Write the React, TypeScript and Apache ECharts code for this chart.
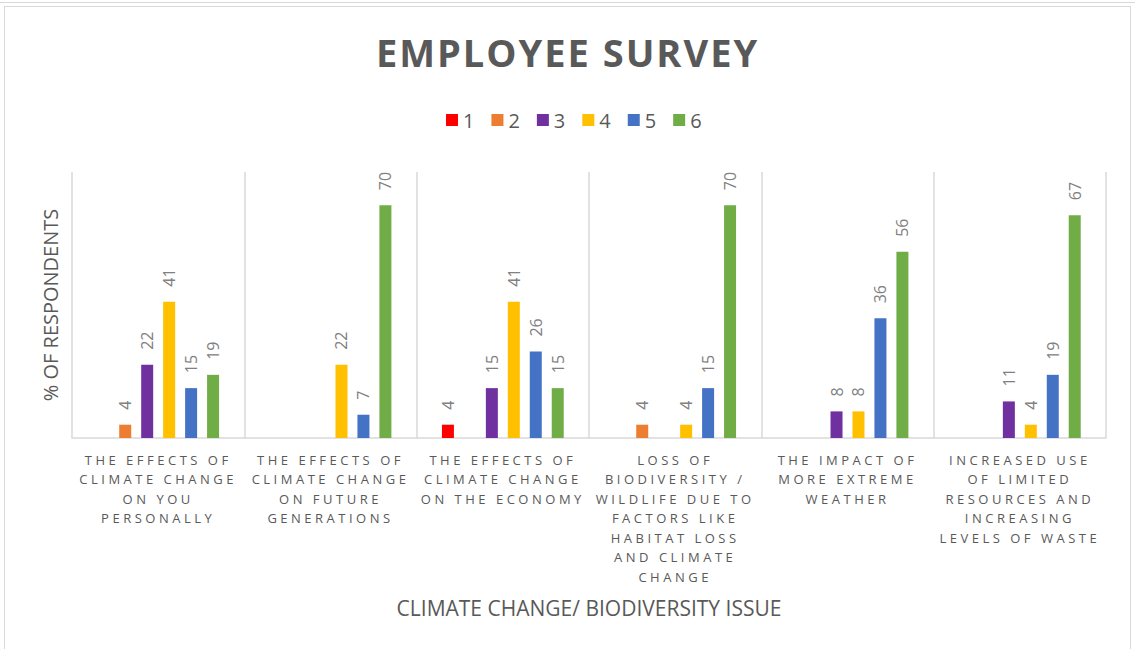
import React, { useEffect, useRef } from "react";
import * as echarts from "echarts";

const categories = [
  "THE EFFECTS OF\nCLIMATE CHANGE\nON YOU\nPERSONALLY",
  "THE EFFECTS OF\nCLIMATE CHANGE\nON FUTURE\nGENERATIONS",
  "THE EFFECTS OF\nCLIMATE CHANGE\nON THE ECONOMY",
  "LOSS OF\nBIODIVERSITY /\nWILDLIFE DUE TO\nFACTORS LIKE\nHABITAT LOSS\nAND CLIMATE\nCHANGE",
  "THE IMPACT OF\nMORE EXTREME\nWEATHER",
  "INCREASED USE\nOF LIMITED\nRESOURCES AND\nINCREASING\nLEVELS OF WASTE",
];

const seriesNames = ["1", "2", "3", "4", "5", "6"];
const values1 = [0, 0, 4, 0, 0, 0];
const values2 = [4, 0, 0, 4, 0, 0];
const values3 = [22, 0, 15, 0, 8, 11];
const values4 = [41, 22, 41, 4, 8, 4];
const values5 = [15, 7, 26, 15, 36, 19];
const values6 = [19, 70, 15, 70, 56, 67];
const allValues = [values1, values2, values3, values4, values5, values6];
const colors = ["#FF0000", "#ED7D31", "#7030A0", "#FFC000", "#4472C4", "#70AD47"];

const titleText = "EMPLOYEE SURVEY";
const xAxisName = "CLIMATE CHANGE/ BIODIVERSITY ISSUE";
const yAxisName = "% OF RESPONDENTS";

const FONT = "'Open Sans', 'Noto Sans', sans-serif";

export default function App() {
  const ref = useRef<HTMLDivElement>(null);

  useEffect(() => {
    if (!ref.current) return;
    const chart = echarts.init(ref.current, undefined, { renderer: "svg" });
    chart.setOption({
      animation: false,
      backgroundColor: "transparent",
      title: {
        text: titleText,
        left: "center",
        top: 28,
        textStyle: {
          fontFamily: FONT,
          fontSize: 38,
          fontWeight: "bold",
          color: "#595959",
        },
      },
      legend: {
        left: 441,
        top: 105,
        itemWidth: 12,
        itemHeight: 12,
        itemGap: 17,
        icon: "rect",
        textStyle: { fontFamily: FONT, fontSize: 20, color: "#595959" },
        data: seriesNames,
      },
      grid: { left: 72, right: 29, top: 172, bottom: 211, containLabel: false },
      xAxis: {
        type: "category",
        data: categories,
        name: xAxisName,
        nameLocation: "middle",
        nameGap: 159,
        nameTextStyle: { fontFamily: FONT, fontSize: 21, color: "#595959" },
        axisLine: { show: true, lineStyle: { color: "#d9d9d9", width: 1.5 } },
        axisTick: { show: false },
        splitLine: { show: true, lineStyle: { color: "#d9d9d9", width: 1.5 } },
        axisLabel: {
          interval: 0,
          margin: 12,
          fontFamily: FONT,
          fontSize: 13,
          lineHeight: 19.5,
          color: "#595959",
        },
      },
      yAxis: {
        type: "value",
        min: 0,
        max: 80,
        name: yAxisName,
        nameLocation: "middle",
        nameRotate: 90,
        nameGap: 12,
        nameTextStyle: { fontFamily: FONT, fontSize: 20, color: "#595959" },
        axisLine: { show: false },
        axisTick: { show: false },
        axisLabel: { show: false },
        splitLine: { show: false },
      },
      series: seriesNames.map((name, i) => ({
        name,
        type: "bar",
        data: allValues[i],
        barWidth: 12,
        barGap: "83%",
        itemStyle: { color: colors[i] },
        label: {
          show: true,
          position: "top",
          rotate: 90,
          align: "left",
          verticalAlign: "middle",
          distance: 15,
          fontFamily: FONT,
          fontSize: 16,
          color: "#808080",
          formatter: (p: any) => (p.value ? String(p.value) : ""),
        },
      })),
    });
    return () => chart.dispose();
  }, []);

  return (
    <div
      style={{
        position: "fixed",
        left: 0,
        top: 0,
        width: 1135,
        height: 649,
        background: "#ffffff",
        overflow: "hidden",
      }}
    >
      <style>{`.chart-host text[style*="13px"] { letter-spacing: 3.5px; }
.chart-host text[style*="38px"] { letter-spacing: 2px; }`}</style>
      <div
        style={{
          position: "absolute",
          left: 0,
          top: 2,
          width: 1135,
          height: 1,
          background: "#d9d9d9",
        }}
      />
      <div
        style={{
          position: "absolute",
          left: 4,
          top: 6,
          width: 1127,
          height: 660,
          border: "1px solid #d9d9d9",
          boxSizing: "border-box",
        }}
      />
      <div
        ref={ref}
        className="chart-host"
        style={{ position: "absolute", left: 0, top: 0, width: 1135, height: 649 }}
      />
    </div>
  );
}
